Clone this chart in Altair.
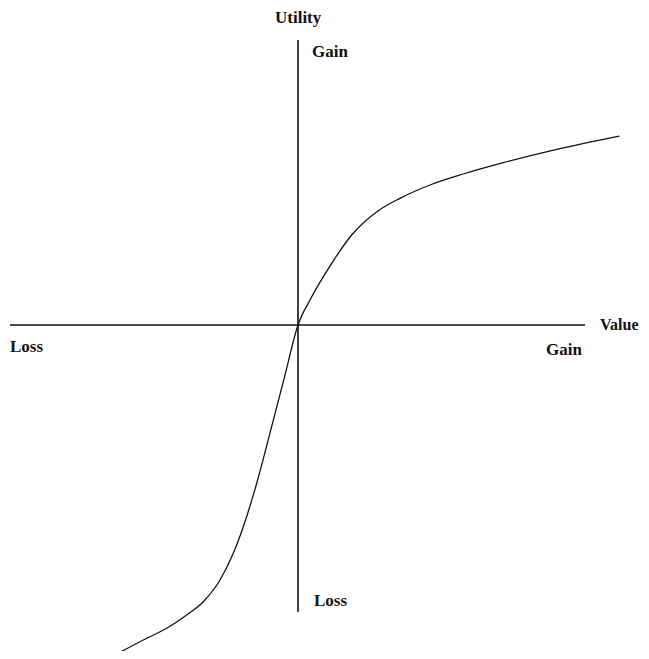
import altair as alt
import pandas as pd

# Curve points (value, utility), origin at axes crossing
curve_x = [-188, -154.7, -131.3, -111.3, -94.7, -78, -64.7, -54.7, -41.3, -25.5, -13.4, 0,
           12, 33.7, 53.7, 80.3, 102, 132, 165.3, 205.3, 258.7, 321.3]
curve_y = [-332.7, -315, -303.3, -290, -276.7, -255, -228.3, -201.7, -158.3, -98.3, -51.7, 0,
           25, 61.7, 90, 114.3, 126.7, 140, 151, 162.3, 175.7, 189]

# Axis extents
h_axis_x = [-288, 287]
v_axis_y = [-287, 285]

label_text = ["Utility", "Gain", "Value", "Gain", "Loss", "Loss"]
label_x = [-23, 14, 302, 248, -288, 16]
label_y = [302, 268.3, -5, -30, -26.7, -281]
label_size = [17, 17, 16, 17, 17, 17]

X_DOM = [-290, 343]
Y_DOM = [-326, 317]

xs = alt.Scale(domain=X_DOM, nice=False, zero=False)
ys = alt.Scale(domain=Y_DOM, nice=False, zero=False)

curve_df = pd.DataFrame({"x": curve_x, "y": curve_y})
haxis_df = pd.DataFrame({"x": [h_axis_x[0]], "x2": [h_axis_x[1]], "y": [0]})
vaxis_df = pd.DataFrame({"x": [0], "y": [v_axis_y[0]], "y2": [v_axis_y[1]]})
label_df = pd.DataFrame({"t": label_text, "x": label_x, "y": label_y, "s": label_size})

haxis = alt.Chart(haxis_df).mark_rule(color="#111", strokeWidth=1.6).encode(
    x=alt.X("x:Q", scale=xs, axis=None), x2="x2:Q",
    y=alt.Y("y:Q", scale=ys, axis=None))
vaxis = alt.Chart(vaxis_df).mark_rule(color="#111", strokeWidth=1.6).encode(
    x=alt.X("x:Q", scale=xs, axis=None),
    y=alt.Y("y:Q", scale=ys, axis=None), y2="y2:Q")
line = alt.Chart(curve_df).mark_line(color="#111", strokeWidth=1.3, interpolate="monotone").encode(
    x=alt.X("x:Q", scale=xs, axis=None),
    y=alt.Y("y:Q", scale=ys, axis=None), order=alt.Order("x:Q"))
labels = alt.Chart(label_df).mark_text(
    align="left", baseline="alphabetic", font="Liberation Serif",
    fontWeight="bold", color="#111").encode(
    x=alt.X("x:Q", scale=xs, axis=None),
    y=alt.Y("y:Q", scale=ys, axis=None), text="t:N",
    size=alt.Size("s:Q", scale=None, legend=None))

chart = alt.layer(haxis, vaxis, line, labels).properties(
    width=633, height=643, padding=0, autosize=alt.AutoSizeParams(type="none")
).configure_view(stroke=None)

chart.save("out.html", embed_options={"renderer": "svg", "actions": False})
